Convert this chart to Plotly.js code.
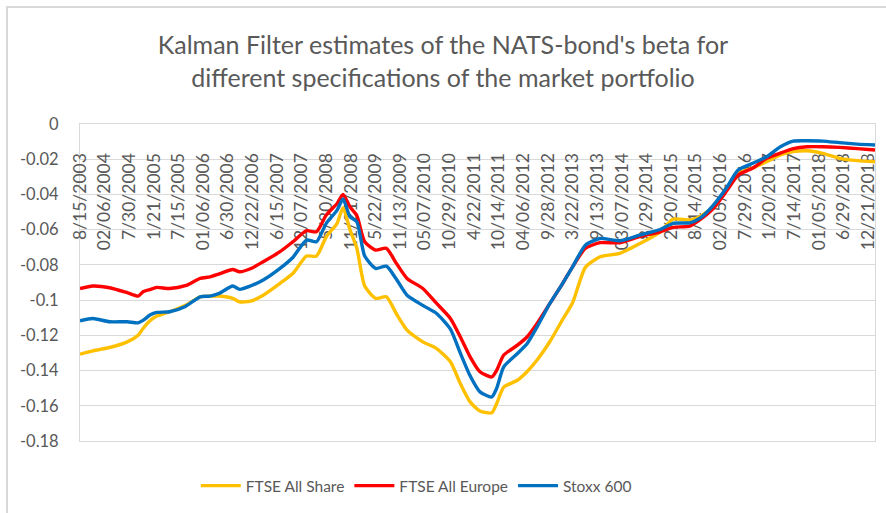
<!DOCTYPE html>
<html>
<head>
<meta charset="utf-8">
<script src="https://cdn.plot.ly/plotly-3.0.1.min.js"></script>
<style>
  html, body { margin: 0; padding: 0; background: #fff; }
  #wrap { position: relative; width: 886px; height: 513px; overflow: hidden; }
  #chart { position: absolute; left: 0; top: 0; width: 886px; height: 513px; }
  #frame { position: absolute; left: 6px; top: 6px; width: 900px; height: 520px;
           border-left: 2px solid #d9d9d9; border-top: 2px solid #d9d9d9; pointer-events: none; }
</style>
</head>
<body>
<div id="wrap"><div id="chart"></div><div id="frame"></div></div>
<script>
// Week index since 8/15/2003 (weekly observations)
const weeks = [0, 13, 30, 48, 59, 64, 71, 78, 91, 107, 122, 132, 142, 155, 162, 173, 186, 203, 216, 230,
  240, 250, 261, 267, 274, 281, 289, 300, 311, 321, 332, 348, 362, 376, 386, 396, 406, 418, 423, 430,
  444, 454, 464, 477, 490, 500, 513, 528, 548, 568, 589, 602, 619, 629, 643, 657, 668, 683, 697, 711,
  724, 738, 754, 771, 789, 807];

const ftseAllShare = [-0.1307, -0.1288, -0.1269, -0.1237, -0.1199, -0.1161, -0.1117, -0.1090, -0.1066, -0.1030,
  -0.0981, -0.0977, -0.0977, -0.0990, -0.1010, -0.1006, -0.0972, -0.0905, -0.0849, -0.0750,
  -0.0750, -0.0640, -0.0564, -0.0475, -0.0600, -0.0705, -0.0920, -0.0990, -0.0981, -0.1076,
  -0.1170, -0.1237, -0.1275, -0.1350, -0.1473, -0.1578, -0.1630, -0.1640, -0.1587, -0.1495,
  -0.1455, -0.1405, -0.1340, -0.1235, -0.1110, -0.1015, -0.0814, -0.0754, -0.0735, -0.0680,
  -0.0612, -0.0540, -0.0545, -0.0527, -0.0470, -0.0370, -0.0280, -0.0250, -0.0214, -0.0176,
  -0.0157, -0.0152, -0.0167, -0.0195, -0.0208, -0.0214];

const ftseAllEurope = [-0.0934, -0.0920, -0.0930, -0.0958, -0.0977, -0.0953, -0.0940, -0.0928, -0.0934, -0.0918,
  -0.0877, -0.0868, -0.0849, -0.0826, -0.0839, -0.0822, -0.0782, -0.0725, -0.0669, -0.0606,
  -0.0612, -0.0517, -0.0451, -0.0400, -0.0470, -0.0520, -0.0669, -0.0716, -0.0706, -0.0790,
  -0.0877, -0.0934, -0.1019, -0.1104, -0.1208, -0.1322, -0.1407, -0.1436, -0.1398, -0.1313,
  -0.1256, -0.1208, -0.1133, -0.1019, -0.0905, -0.0811, -0.0706, -0.0674, -0.0674, -0.0640,
  -0.0612, -0.0587, -0.0580, -0.0545, -0.0479, -0.0375, -0.0290, -0.0250, -0.0195, -0.0165,
  -0.0140, -0.0129, -0.0129, -0.0133, -0.0140, -0.0148];

const stoxx600 = [-0.1117, -0.1104, -0.1123, -0.1123, -0.1129, -0.1115, -0.1085, -0.1070, -0.1066, -0.1036,
  -0.0981, -0.0977, -0.0960, -0.0920, -0.0939, -0.0920, -0.0886, -0.0820, -0.0758, -0.0659,
  -0.0669, -0.0564, -0.0489, -0.0425, -0.0527, -0.0555, -0.0750, -0.0820, -0.0807, -0.0880,
  -0.0972, -0.1030, -0.1076, -0.1165, -0.1300, -0.1430, -0.1521, -0.1550, -0.1500, -0.1380,
  -0.1303, -0.1246, -0.1152, -0.1019, -0.0905, -0.0811, -0.0688, -0.0650, -0.0663, -0.0631,
  -0.0599, -0.0564, -0.0561, -0.0536, -0.0460, -0.0356, -0.0261, -0.0223, -0.0186, -0.0129,
  -0.0097, -0.0095, -0.0097, -0.0106, -0.0114, -0.0119];

const seriesNames = ["FTSE All Share", "FTSE All Europe", "Stoxx 600"];

// Category labels shown every 25 weekly observations
const xTickLabels = ["8/15/2003", "02/06/2004", "7/30/2004", "1/21/2005", "7/15/2005", "01/06/2006",
  "6/30/2006", "12/22/2006", "6/15/2007", "12/07/2007", "5/30/2008", "11/21/2008", "5/22/2009",
  "11/13/2009", "05/07/2010", "10/29/2010", "4/22/2011", "10/14/2011", "04/06/2012", "9/28/2012",
  "3/22/2013", "9/13/2013", "03/07/2014", "8/29/2014", "2/20/2015", "8/14/2015", "02/05/2016",
  "7/29/2016", "1/20/2017", "7/14/2017", "01/05/2018", "6/29/2018", "12/21/2018"];
const labelEvery = 25;
const lastWeek = 807;

const yTickValues = [0, -0.02, -0.04, -0.06, -0.08, -0.1, -0.12, -0.14, -0.16, -0.18];
const yTickLabels = ["0", "-0.02", "-0.04", "-0.06", "-0.08", "-0.1", "-0.12", "-0.14", "-0.16", "-0.18"];

const colors = ["#FFC000", "#FF0000", "#0070C0"];
const values = [ftseAllShare, ftseAllEurope, stoxx600];

const traces = values.map((v, i) => ({
  type: "scatter", mode: "lines", name: seriesNames[i],
  x: weeks, y: v,
  line: { color: colors[i], width: 3.4, shape: "spline", smoothing: 0.6 }
}));

const font = "Lato, 'Open Sans', sans-serif";
const layout = {
  width: 886, height: 513,
  margin: { l: 80, r: 11, t: 124, b: 71 },
  paper_bgcolor: "#fff", plot_bgcolor: "#fff",
  font: { family: font, color: "#595959", size: 16 },
  title: {
    text: "Kalman Filter estimates of the NATS-bond's beta for<br>different specifications of the market portfolio",
    font: { family: font, size: 25, color: "#595959" },
    x: 0.5, xref: "container", xanchor: "center", y: 0.894, yref: "container", yanchor: "top"
  },
  xaxis: {
    range: [0, lastWeek], side: "top", layer: "below traces",
    tickvals: xTickLabels.map((_, i) => i * labelEvery),
    ticktext: xTickLabels,
    tickangle: -90, ticklabelposition: "inside", ticklabeloverflow: "allow",
    ticklabelstandoff: 20,
    ticks: "", showgrid: false, zeroline: false,
    showline: true, mirror: true, linecolor: "#d9d9d9", linewidth: 1,
    tickfont: { family: font, size: 17.5, color: "#595959" }
  },
  yaxis: {
    range: [-0.18, 0], layer: "below traces",
    tickvals: yTickValues, ticktext: yTickLabels,
    showgrid: true, gridcolor: "#d9d9d9", gridwidth: 1, zeroline: false,
    showline: true, mirror: true, linecolor: "#d9d9d9", linewidth: 1,
    ticks: "", ticklabelstandoff: 17,
    tickfont: { family: font, size: 16.5, color: "#595959" }
  },
  showlegend: true,
  legend: {
    orientation: "h", x: 0.423, xanchor: "center", y: -0.085, yanchor: "top",
    font: { family: font, size: 15.5, color: "#595959" },
    itemwidth: 40, traceorder: "normal"
  }
};

Plotly.newPlot("chart", traces, layout, { displayModeBar: false, staticPlot: true });
</script>
</body>
</html>
